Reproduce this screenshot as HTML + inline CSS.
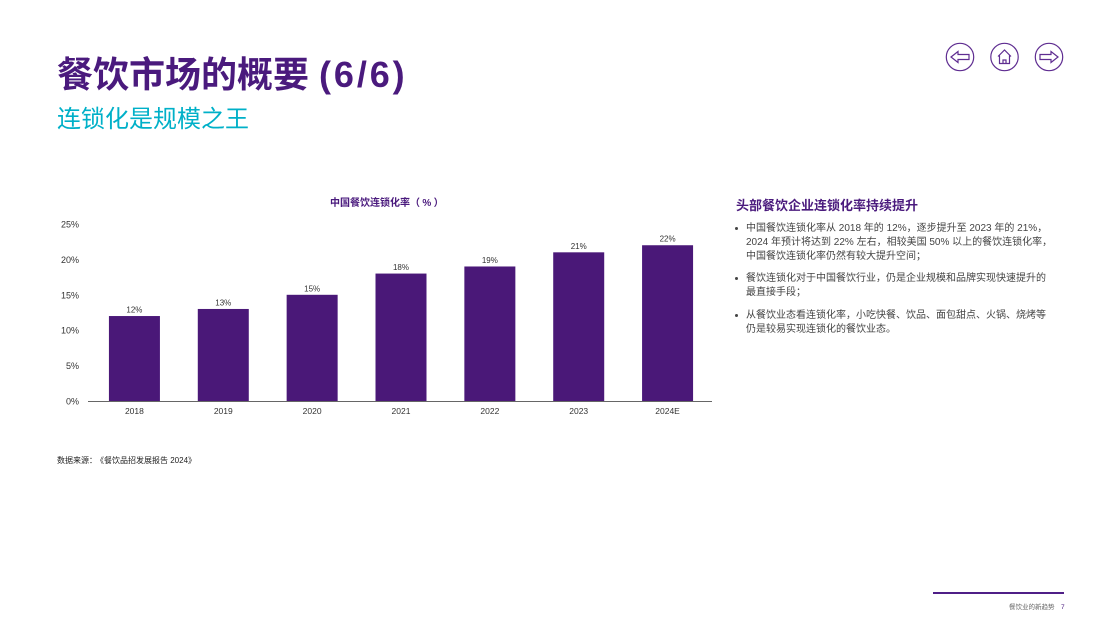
<!DOCTYPE html>
<html lang="zh">
<head>
<meta charset="utf-8">
<title>餐饮市场的概要</title>
<style>
html,body{margin:0;padding:0;background:#fff}
#page{position:relative;width:1109px;height:637px;overflow:hidden;background:#fff;font-family:"Liberation Sans","Noto Sans CJK SC",sans-serif}
.t{position:absolute;white-space:nowrap;line-height:1}
.body-line{font-size:10px;color:#444;left:746px}
.bullet{position:absolute;left:735px;width:3px;height:3px;border-radius:50%;background:#444}
svg{position:absolute;left:0;top:0}
</style>
</head>
<body>
<div id="page">
  <div class="t" style="left:57px;top:57px;font-size:36px;font-weight:700;color:#4a1a7d">餐饮市场的概要 <span style="letter-spacing:2.9px">(6/6)</span></div>
  <div class="t" style="left:57px;top:108px;font-size:24px;color:#00b0c8">连锁化是规模之王</div>

  <svg width="1109" height="637" style="pointer-events:none">
    <g fill="none" stroke="#5f2d91" stroke-width="1.2">
      <g>
        <circle cx="960" cy="57" r="13.7"/>
        <path d="M951 57l7-5.500v3h11v5h-11v3z"/>
      </g>
      <g>
        <circle cx="1004.500" cy="57" r="13.700"/>
        <path d="M998 56.500l6.500-6.500 6.500 6.500M999.500 55.500v8h10v-8M1003 63.500v-3.500h3v3.500"/>
      </g>
      <g>
        <circle cx="1049" cy="57" r="13.700"/>
        <path d="M1058 57l-7-5.500v3h-11v5h11v3z"/>
      </g>
    </g>
  </svg>

  <div class="t" style="left:330px;top:199px;font-size:10px;font-weight:700;color:#4a1a7d">中国餐饮连锁化率<span style="letter-spacing:-.2px">（ % ）</span></div>
  <svg id="chart" width="1109" height="637"></svg>

  <div class="t" style="left:736px;top:199px;font-size:13px;font-weight:700;color:#4a1a7d">头部餐饮企业连锁化率持续提升</div>

  <div class="bullet" style="top:227px"></div>
  <div class="t body-line" style="top:224px">中国餐饮连锁化率从 2018 年的 12%，逐步提升至 2023 年的 21%，</div>
  <div class="t body-line" style="top:238px">2024 年预计将达到 22% 左右，相较美国 50% 以上的餐饮连锁化率，</div>
  <div class="t body-line" style="top:252px">中国餐饮连锁化率仍然有较大提升空间；</div>

  <div class="bullet" style="top:277px"></div>
  <div class="t body-line" style="top:274px">餐饮连锁化对于中国餐饮行业，仍是企业规模和品牌实现快速提升的</div>
  <div class="t body-line" style="top:288px">最直接手段；</div>

  <div class="bullet" style="top:314px"></div>
  <div class="t body-line" style="top:311px">从餐饮业态看连锁化率，小吃快餐、饮品、面包甜点、火锅、烧烤等</div>
  <div class="t body-line" style="top:325px">仍是较易实现连锁化的餐饮业态。</div>

  <div class="t" style="left:57px;top:457px;font-size:8px;color:#222">数据来源：<span style="margin-left:3px">《餐饮品招发展报告 2024》</span></div>

  <div style="position:absolute;left:933px;top:592px;width:131px;height:2px;background:#4f1f87"></div>
  <div class="t" style="left:1009px;top:605px;font-size:6.500px;color:#666">餐饮业的新趋势</div>
  <div class="t" style="left:1061px;top:605px;font-size:6.500px;color:#4a1a7d">7</div>
</div>
<script>
const categories = ['2018','2019','2020','2021','2022','2023','2024E'];
const rateValues = [12,13,15,18,19,21,22];
const valueLabels = ['12%','13%','15%','18%','19%','21%','22%'];
const yTicks = [0,5,10,15,20,25];
const yTickLabels = ['0%','5%','10%','15%','20%','25%'];

const NS = 'http://www.w3.org/2000/svg';
const chart = document.getElementById('chart');
const axisLeft = 88, axisRight = 712, bandLeft = 90, bandRight = 712, plotBottom = 401, plotTop = 224, yMax = 25;
const step = (bandRight - bandLeft) / categories.length;
const barWidth = 51;
function xScale(i){ return bandLeft + step * (i + 0.5); }
function yScale(v){ return plotBottom - (v / yMax) * (plotBottom - plotTop); }
function addText(x, y, str, anchor, size){
  const t = document.createElementNS(NS, 'text');
  t.setAttribute('x', x);
  t.setAttribute('y', y);
  t.setAttribute('text-anchor', anchor);
  t.setAttribute('font-size', size);
  t.setAttribute('fill', '#333');
  t.setAttribute('font-family', '"Liberation Sans","Noto Sans CJK SC",sans-serif');
  t.textContent = str;
  chart.appendChild(t);
  return t;
}
yTicks.forEach(function(v, i){
  const label = addText(79, yScale(v) + 3.500, yTickLabels[i], 'end', 9);
  
  
});
rateValues.forEach(function(v, i){
  const cx = xScale(i);
  const r = document.createElementNS(NS, 'rect');
  r.setAttribute('x', cx - barWidth / 2);
  r.setAttribute('y', yScale(v));
  r.setAttribute('width', barWidth);
  r.setAttribute('height', plotBottom - yScale(v));
  r.setAttribute('fill', '#4a1878');
  
  
  chart.appendChild(r);
  const val = addText(cx, yScale(v) - 3.500, valueLabels[i], 'middle', 8);
  
  
  const cat = addText(cx, plotBottom + 13, categories[i], 'middle', 8.500);
  
  
});
const axis = document.createElementNS(NS, 'line');
axis.setAttribute('x1', axisLeft);
axis.setAttribute('x2', axisRight);
axis.setAttribute('y1', plotBottom + 0.5);
axis.setAttribute('y2', plotBottom + 0.5);
axis.setAttribute('stroke', '#666');
axis.setAttribute('stroke-width', '1');


chart.appendChild(axis);
</script>
</body>
</html>
